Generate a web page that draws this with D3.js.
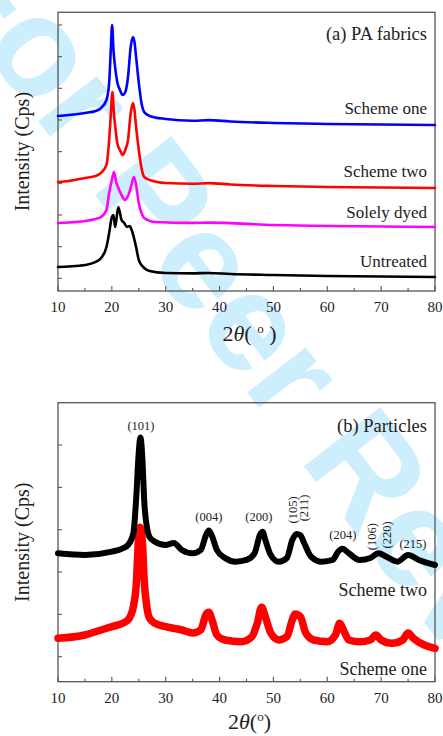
<!DOCTYPE html>
<html><head><meta charset="utf-8">
<script src="https://cdn.jsdelivr.net/npm/d3@7"></script>
<style>body{margin:0;background:#fff}svg{display:block}</style>
</head><body>
<script>
// ---------- data ----------
const xTicks = [10, 20, 30, 40, 50, 60, 70, 80];
const xMinorTicks = [15, 25, 35, 45, 55, 65, 75];
const yTicksA = [0, 1000, 2000, 3000, 4000, 5000, 6000, 7000, 8000];
const yTicksB = [0, 1000, 2000, 3000, 4000, 5000];

// panel (a) PA fabrics: [2theta, intensity]
const fabricSchemeOne = [[10,5127],[12,5158],[15,5222],[17,5285],[18,5379],[19,5632],[19.5,6169],[19.8,7211],[20.05,8000],[20.3,7211],[20.6,6674],[21,6200],[21.5,5948],[22,5790],[22.5,5885],[23,6358],[23.5,7306],[23.9,7622],[24.2,7464],[24.5,6990],[25,6169],[25.5,5537],[26,5253],[27,5127],[30,5032],[35,4975],[38,4995],[42,4953],[50,4906],[60,4874],[70,4858],[80,4843]];
const fabricSchemeTwo = [[10,3042],[12,3074],[15,3169],[17,3232],[18,3327],[19,3580],[19.5,4369],[19.8,5158],[20.1,5885],[20.4,5158],[20.7,4685],[21,4274],[21.5,4053],[22,3895],[22.5,4053],[23,4369],[23.5,5222],[23.9,5537],[24.2,5316],[24.5,4779],[25,4053],[25.5,3485],[26,3200],[27,3106],[30,3011],[35,2985],[38,3005],[42,2963],[50,2916],[60,2885],[70,2869],[80,2853]];
const fabricSolelyDyed = [[10,1748],[12,1764],[15,1811],[17,1874],[18,1937],[19,2158],[19.5,2695],[20,3106],[20.4,3358],[20.8,3042],[21.2,2853],[21.8,2632],[22.4,2474],[23,2600],[23.5,2853],[24.1,3200],[24.5,2948],[25,2379],[25.5,2064],[26,1906],[28,1779],[35,1752],[38,1760],[50,1685],[60,1653],[80,1621]];
const fabricUntreated = [[10,358],[12,374],[15,421],[17,516],[18,642],[19,990],[19.5,1432],[20,1937],[20.3,2000],[20.6,1621],[21.2,2253],[21.8,1842],[22.3,1748],[22.8,1621],[23.3,1653],[23.8,1464],[24.5,990],[25,579],[25.5,421],[26,326],[27,232],[30,169],[35,158],[38,170],[42,137],[50,106],[60,74],[80,42]];

// panel (b) particles
const particleSchemeTwo = [[10,2443],[15,2403],[20,2481],[22,2561],[23,2639],[24,2923],[24.5,3702],[25,4840],[25.3,5180],[25.7,4600],[26,3702],[26.5,3064],[27,2828],[28,2717],[30,2639],[31.5,2686],[33,2521],[35,2443],[36.5,2521],[37.5,2880],[38,2980],[38.5,2880],[39.5,2521],[41,2332],[43,2245],[45,2285],[46.5,2443],[47.5,2880],[48,2950],[48.5,2757],[49.5,2403],[51,2245],[52.5,2332],[53.5,2757],[54.3,2900],[55,2870],[55.7,2686],[57,2363],[59,2245],[61,2285],[62,2480],[62.8,2550],[64,2443],[66,2285],[68,2332],[69.5,2443],[71,2363],[73,2245],[75,2403],[77,2285],[80,2167]];
const particleSchemeOne = [[10,435],[15,513],[18,631],[20,709],[22,790],[23,868],[24,1182],[24.5,1654],[25,2880],[25.25,3060],[25.7,2650],[26,1812],[26.5,1182],[27,907],[28,790],[30,709],[33,631],[35,561],[36.5,631],[37.5,1000],[38,1050],[38.6,868],[39.5,513],[41,395],[44,355],[46,473],[47,790],[47.8,1170],[48.5,945],[49.5,561],[51,395],[52.5,473],[53.5,868],[54,1010],[55,945],[56,561],[57.5,395],[60,355],[61.5,513],[62.3,790],[63,631],[64,395],[66,355],[68,395],[69,513],[70,395],[72,317],[74,395],[75,561],[76,435],[78,277],[80,199]];

// peak labels for panel (b)
const peakLabels = ["(101)", "(004)", "(200)", "(105)", "(211)", "(204)", "(106)", "(220)", "(215)"];
const peakAngles = [25.4, 38.0, 47.3, 53.58, 55.67, 62.9, 68.37, 71.14, 75.9];
const peakHeights = [5355, 3206, 3206, 3466, 3513, 2781, 2835, 2875, 2561];
const peakRotated = [false, false, false, true, true, false, true, true, false];

// ---------- drawing ----------
const W = 443, H = 736;
const svg = d3.select("body").append("svg").attr("width", W).attr("height", H)
  .style("font-family", "'Liberation Serif','Times New Roman',serif");

// watermark
svg.append("text").text("For Peer Review")
  .attr("transform", "translate(-72,-22) rotate(52.4)")
  .attr("font-family", "'Liberation Sans',Arial,sans-serif").attr("font-weight", "bold")
  .attr("font-size", 140).attr("fill", "#cdeefc");

const left = 58, right = 435;
const x = d3.scaleLinear().domain([10, 80]).range([left, right]);
const frameColor = "#555";

function panel(opts) {
  const g = svg.append("g");
  const y = d3.scaleLinear().domain(opts.yDomain).range([opts.bottom, opts.top]);
  g.append("rect").attr("x", left).attr("y", opts.top).attr("width", right - left)
    .attr("height", opts.bottom - opts.top).attr("fill", "none")
    .attr("stroke", frameColor).attr("stroke-width", 1.3);
  g.selectAll(".xt").data(xTicks).join("line")
    .attr("x1", d => x(d)).attr("x2", d => x(d))
    .attr("y1", opts.bottom).attr("y2", opts.bottom - 5)
    .attr("stroke", frameColor).attr("stroke-width", 1.1);
  g.selectAll(".xm").data(xMinorTicks).join("line")
    .attr("x1", d => x(d)).attr("x2", d => x(d))
    .attr("y1", opts.bottom).attr("y2", opts.bottom - 3)
    .attr("stroke", frameColor).attr("stroke-width", 1.1);
  g.selectAll(".xl").data(xTicks).join("text")
    .attr("x", d => x(d)).attr("y", opts.bottom + 21)
    .attr("text-anchor", "middle").attr("font-size", 15).attr("fill", "#222")
    .text(d => d);
  g.selectAll(".yt").data(opts.yTicks).join("line")
    .attr("x1", left).attr("x2", left + 4)
    .attr("y1", d => y(d)).attr("y2", d => y(d))
    .attr("stroke", frameColor).attr("stroke-width", 1.1);
  const t = g.append("text").attr("x", (left + right) / 2 + 3).attr("y", opts.titleY)
    .attr("text-anchor", "middle").attr("font-size", 22).attr("fill", "#222");
  t.append("tspan").text("2");
  t.append("tspan").attr("font-style", "italic").text("θ");
  t.append("tspan").text(opts.spaced ? "( " : "(");
  t.append("tspan").attr("font-size", 13).attr("dy", -8).text("o");
  t.append("tspan").attr("dy", 8).text(opts.spaced ? " )" : ")");
  g.append("text").attr("transform", `translate(29,${(opts.top + opts.bottom) / 2}) rotate(-90)`)
    .attr("text-anchor", "middle").attr("font-size", 20).attr("fill", "#222")
    .text("Intensity (Cps)");
  const line = d3.line().x(d => x(d[0])).y(d => y(d[1])).curve(d3.curveMonotoneX);
  opts.series.forEach(s => {
    g.append("path").attr("d", line(s.data)).attr("fill", "none")
      .attr("stroke", s.color).attr("stroke-width", s.width)
      .attr("stroke-linejoin", "round").attr("stroke-linecap", "round");
  });
  opts.labels.forEach(l => {
    g.append("text").attr("x", 427).attr("y", l.y).attr("text-anchor", "end")
      .attr("font-size", l.size).attr("fill", "#222").text(l.text);
  });
  return { g, y };
}

panel({
  top: 12.3, bottom: 291, yDomain: [-400, 8400], yTicks: yTicksA, spaced: true, titleY: 341,
  series: [
    { data: fabricUntreated, color: "#000000", width: 2.6 },
    { data: fabricSolelyDyed, color: "#ff00ff", width: 2.6 },
    { data: fabricSchemeTwo, color: "#ff0000", width: 2.6 },
    { data: fabricSchemeOne, color: "#0000ff", width: 2.6 }
  ],
  labels: [
    { text: "(a) PA fabrics", y: 40, size: 18.5 },
    { text: "Scheme one", y: 114, size: 17 },
    { text: "Scheme two", y: 176.5, size: 17 },
    { text: "Solely dyed", y: 218, size: 17 },
    { text: "Untreated", y: 266.5, size: 17 }
  ]
});

const pb = panel({
  top: 402.7, bottom: 681.7, yDomain: [-590, 6000], yTicks: yTicksB, spaced: false, titleY: 729,
  series: [
    { data: particleSchemeOne, color: "#ff0000", width: 7.5 },
    { data: particleSchemeTwo, color: "#000000", width: 6 }
  ],
  labels: [
    { text: "(b) Particles", y: 431.5, size: 18.5 },
    { text: "Scheme two", y: 595.5, size: 18 },
    { text: "Scheme one", y: 675, size: 18 }
  ]
});

peakLabels.forEach((lab, i) => {
  const px = x(peakAngles[i]), py = pb.y(peakHeights[i]);
  const t = pb.g.append("text").attr("font-size", 12.5).attr("fill", "#222").text(lab);
  if (peakRotated[i]) {
    t.attr("transform", `translate(${px + 4},${py}) rotate(-90)`).attr("text-anchor", "middle");
  } else {
    t.attr("x", px).attr("y", py).attr("text-anchor", "middle");
  }
});
</script>
</body></html>
